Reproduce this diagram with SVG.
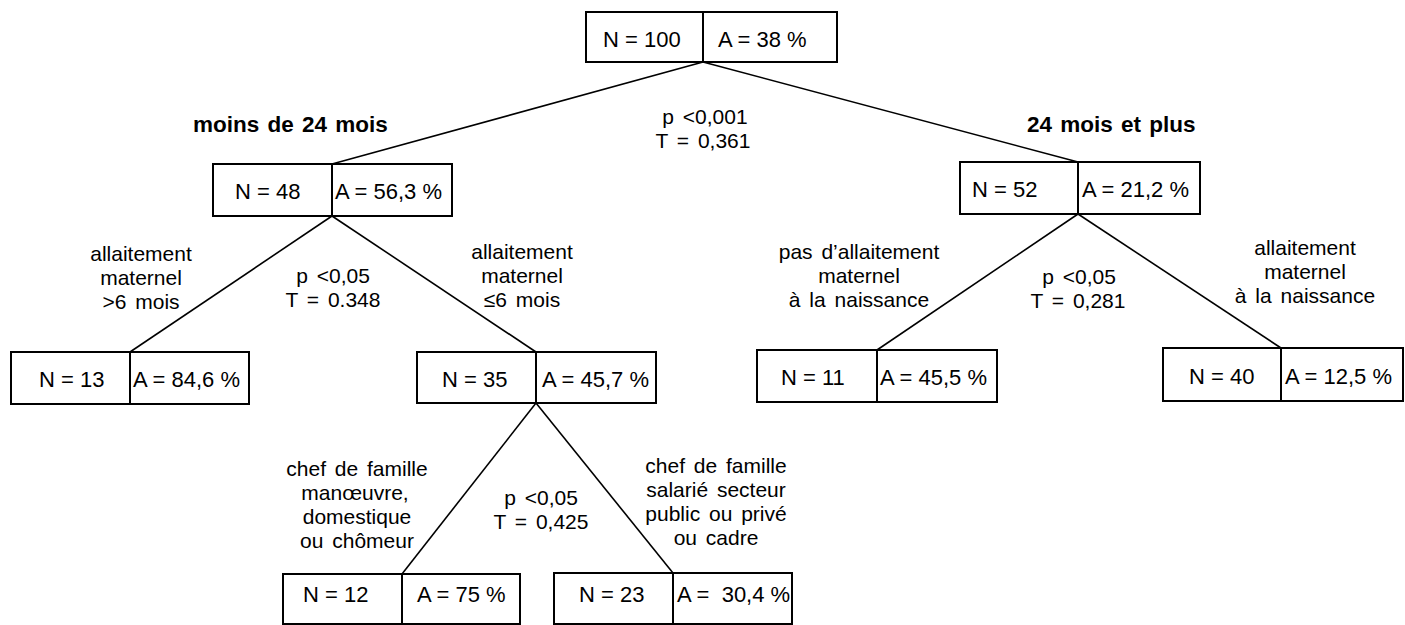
<svg xmlns="http://www.w3.org/2000/svg" width="1405" height="625" viewBox="0 0 1405 625">
<style>
  .box { fill: none; stroke: #000; stroke-width: 2; }
  .div { stroke: #000; stroke-width: 2; }
  .t { font-family: "Liberation Sans", Arial, sans-serif; font-size: 22px; fill: #000; }
  .l { font-family: "Liberation Sans", Arial, sans-serif; font-size: 21px; fill: #000; text-anchor: middle; word-spacing: 3px; }
  .b { font-family: "Liberation Sans", Arial, sans-serif; font-size: 22.5px; font-weight: bold; fill: #000; word-spacing: 2px; }
  .edge { stroke: #000; stroke-width: 1.6; fill: none; }
</style>
<rect width="1405" height="625" fill="#fff"/>

<g id="connectors">
  <line class="edge" x1="703" y1="62" x2="332" y2="164"/>
  <line class="edge" x1="703" y1="62" x2="1078" y2="162"/>
  <line class="edge" x1="332" y1="216" x2="130" y2="352"/>
  <line class="edge" x1="332" y1="216" x2="536" y2="352"/>
  <line class="edge" x1="536" y1="403" x2="402" y2="574"/>
  <line class="edge" x1="536" y1="403" x2="673" y2="573"/>
  <line class="edge" x1="1078" y1="214" x2="877" y2="350"/>
  <line class="edge" x1="1078" y1="214" x2="1281" y2="348"/>
</g>

<g id="labels">
  <text class="b" x="193" y="132">moins de 24 mois</text>
  <text class="b" x="1027" y="132">24 mois et plus</text>
  <text class="l" x="705" y="124">p &lt;0,001</text>
  <text class="l" x="703" y="148">T = 0,361</text>

  <text class="l" x="141" y="261">allaitement</text>
  <text class="l" x="141" y="285">maternel</text>
  <text class="l" x="141" y="309">&gt;6 mois</text>
  <text class="l" x="333" y="283">p &lt;0,05</text>
  <text class="l" x="333" y="307">T = 0.348</text>
  <text class="l" x="522" y="259">allaitement</text>
  <text class="l" x="522" y="283">maternel</text>
  <text class="l" x="522" y="307">≤6 mois</text>

  <text class="l" x="859" y="259">pas d’allaitement</text>
  <text class="l" x="859" y="283">maternel</text>
  <text class="l" x="859" y="307">à la naissance</text>
  <text class="l" x="1079" y="284">p &lt;0,05</text>
  <text class="l" x="1078" y="308">T = 0,281</text>
  <text class="l" x="1305" y="255">allaitement</text>
  <text class="l" x="1305" y="279">maternel</text>
  <text class="l" x="1305" y="303">à la naissance</text>

  <text class="l" x="357" y="476">chef de famille</text>
  <text class="l" x="355" y="500">manœuvre,</text>
  <text class="l" x="357" y="524">domestique</text>
  <text class="l" x="357" y="548">ou chômeur</text>
  <text class="l" x="541" y="505">p &lt;0,05</text>
  <text class="l" x="541" y="529">T = 0,425</text>
  <text class="l" x="716" y="473">chef de famille</text>
  <text class="l" x="716" y="497">salarié secteur</text>
  <text class="l" x="716" y="521">public ou privé</text>
  <text class="l" x="716" y="545">ou cadre</text>
</g>

<g id="n100">
  <rect class="box" x="586" y="12" width="251" height="50"/>
  <line class="div" x1="703" y1="12" x2="703" y2="62"/>
  <text class="t" x="603" y="47">N = 100</text>
  <text class="t" x="718" y="47">A = 38 %</text>
</g>
<g id="n48">
  <rect class="box" x="213" y="164" width="239" height="52"/>
  <line class="div" x1="332" y1="164" x2="332" y2="216"/>
  <text class="t" x="235" y="199">N = 48</text>
  <text class="t" x="335" y="199">A = 56,3 %</text>
</g>
<g id="n52">
  <rect class="box" x="960" y="162" width="240" height="52"/>
  <line class="div" x1="1078" y1="162" x2="1078" y2="214"/>
  <text class="t" x="972" y="197">N = 52</text>
  <text class="t" x="1082" y="197">A = 21,2 %</text>
</g>
<g id="n13">
  <rect class="box" x="11" y="352" width="238" height="52"/>
  <line class="div" x1="130" y1="352" x2="130" y2="404"/>
  <text class="t" x="39" y="387">N = 13</text>
  <text class="t" x="133" y="387">A = 84,6 %</text>
</g>
<g id="n35">
  <rect class="box" x="417" y="352" width="239" height="51"/>
  <line class="div" x1="536" y1="352" x2="536" y2="403"/>
  <text class="t" x="442" y="387">N = 35</text>
  <text class="t" x="542" y="387">A = 45,7 %</text>
</g>
<g id="n11">
  <rect class="box" x="757" y="350" width="240" height="52"/>
  <line class="div" x1="877" y1="350" x2="877" y2="402"/>
  <text class="t" x="781" y="385">N = 11</text>
  <text class="t" x="880" y="385">A = 45,5 %</text>
</g>
<g id="n40">
  <rect class="box" x="1163" y="348" width="240" height="53"/>
  <line class="div" x1="1281" y1="348" x2="1281" y2="401"/>
  <text class="t" x="1189" y="384">N = 40</text>
  <text class="t" x="1285" y="384">A = 12,5 %</text>
</g>
<g id="n12">
  <rect class="box" x="283" y="574" width="237" height="50"/>
  <line class="div" x1="402" y1="574" x2="402" y2="624"/>
  <text class="t" x="303" y="602">N = 12</text>
  <text class="t" x="417" y="602">A = 75 %</text>
</g>
<g id="n23">
  <rect class="box" x="554" y="573" width="238" height="51"/>
  <line class="div" x1="673" y1="573" x2="673" y2="624"/>
  <text class="t" x="579" y="602">N = 23</text>
  <text class="t" x="677" y="602" style="white-space:pre">A =  30,4 %</text>
</g>
</svg>
